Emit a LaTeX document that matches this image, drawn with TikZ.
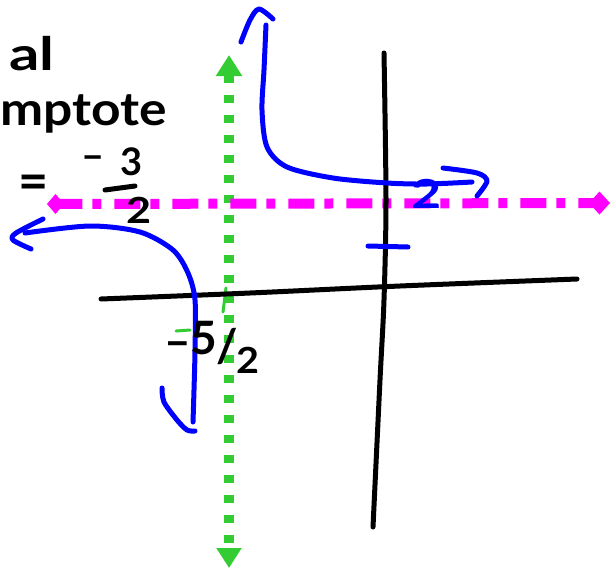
\documentclass[tikz,border=0pt]{standalone}
\usepackage{fontspec}
\setmainfont{Lato}
\usepackage{xcolor}
\usetikzlibrary{arrows.meta}
\definecolor{sketchblue}{HTML}{0000FF}
\definecolor{sketchpink}{HTML}{FF00FF}
\definecolor{sketchgreen}{HTML}{33CC33}
\newcommand{\etire}[2][1.12]{\scalebox{#1}[1]{#2}}

\begin{document}
\begin{tikzpicture}[x=1pt,y=-1pt,
    axe/.style={black,line width=5pt,line cap=round,line join=round},
    courbe/.style={sketchblue,line width=5pt,line cap=round,line join=round},
    ecrit/.style={font=\fontsize{46}{46}\selectfont\bfseries,inner sep=0pt}]
  \useasboundingbox (0,0) rectangle (616,568);

  % Asymptote verticale
  \draw[sketchgreen,line width=10pt,dash pattern=on 8pt off 12pt,
        {Triangle[length=21pt,width=25pt]}-{Triangle[length=20pt,width=24pt]}]
        (229,55) -- (229,568);
  \draw[sketchgreen,line width=3pt,line cap=round] (226,288) -- (223,312);
  \draw[sketchgreen,line width=3pt,line cap=round] (176,331) -- (190,330);

  % Asymptote horizontale
  \draw[sketchpink,line width=10pt,dash pattern=on 26pt off 10pt on 9pt off 13pt,
        {Diamond[length=17pt,width=20pt]}-{Diamond[length=21pt,width=23pt]}]
        (47,204) -- (610,203);

  % Axes
  \draw[axe] plot[smooth] coordinates {(384,53) (386,200) (384,300) (380,380) (373,527)};
  \draw[axe] plot[smooth] coordinates {(101,299) (250,293) (400,286) (577,279)};
  \draw[courbe] (368,246) -- (408,247);

  % Branche de droite
  \draw[courbe] plot[smooth] coordinates {(266,25) (264,70) (262,110) (267,147)
        (287,167) (333,178) (387,183) (427,184) (472,182)};
  \draw[courbe] plot[smooth] coordinates {(241,42) (250,20) (259,9) (273,19)};
  \draw[courbe] plot[smooth] coordinates {(443,168) (477,173) (487,181) (477,196)};

  % Branche de gauche
  \draw[courbe] plot[smooth] coordinates {(25,233) (90,226) (140,232) (173,250)
        (188,273) (195,300) (195,350) (194,390) (193,422)};
  \draw[courbe] plot[smooth] coordinates {(43,219) (16,233) (13,240) (31,249)};
  \draw[courbe] plot[smooth] coordinates {(162,388) (164,402) (177,420) (187,430) (195,431)};

  % Textes
  \node[ecrit,anchor=base west] (al) at (9,70) {\etire[1.3]{al}};
  \node[ecrit,anchor=base west] (mptote) at (0,125) {\etire{mptote}};
  \node[ecrit,font=\fontsize{52}{52}\selectfont\bfseries] (egal) at (34,187) {=};
  \node[ecrit,font=\fontsize{40}{40}\selectfont\bfseries] (moins) at (93,163) {–};
  \node[ecrit,font=\fontsize{38}{38}\selectfont\bfseries] (trois) at (132,162) {3};
  \draw[black,line width=5pt,line cap=round] (105,190) -- (135,186);
  \node[ecrit,font=\fontsize{36}{36}\selectfont\bfseries] (deuxb) at (139,210) {\etire[1.2]{2}};
  \node[ecrit,anchor=base west] (racine) at (164,362)
       {\raisebox{0.2ex}{–}\raisebox{0.3ex}{5}\kern-1pt/\kern-1pt%
        \raisebox{-0.5ex}{\fontsize{36}{36}\selectfont\etire[1.1]{2}}};
  \node[ecrit,font=\fontsize{40}{40}\selectfont\bfseries,text=sketchblue] (deux) at (427,194)
       {\etire[1.3]{2}};

\end{tikzpicture}
\end{document}
